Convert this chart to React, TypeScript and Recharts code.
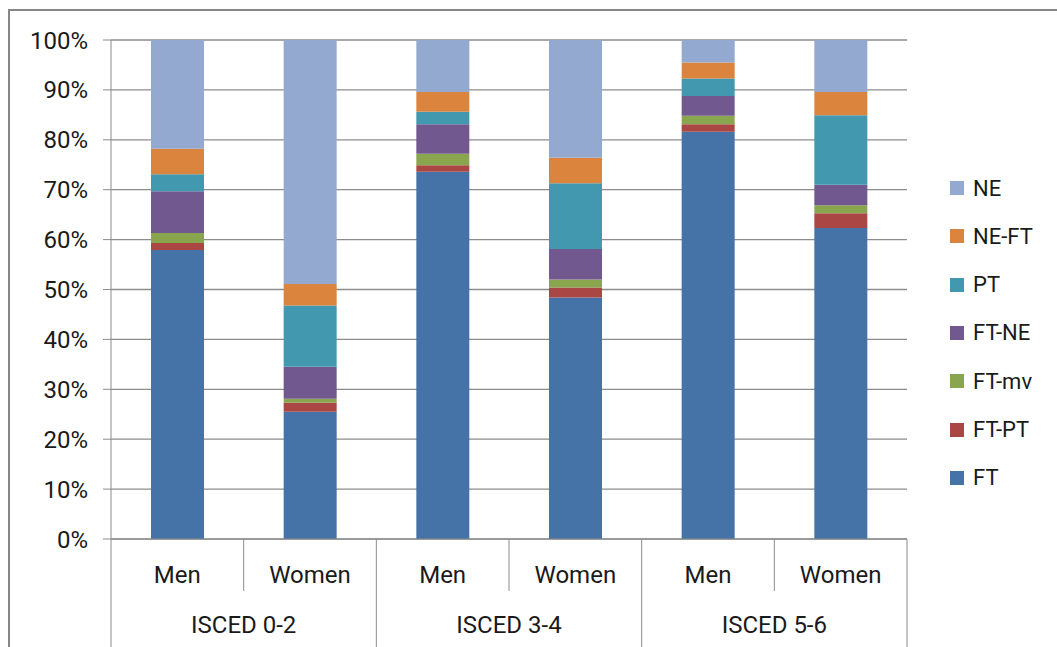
import React from "react";
import { BarChart, Bar, XAxis, YAxis, CartesianGrid } from "recharts";

// categories (inner and outer level of the x axis)
const CATEGORIES = ["Men", "Women", "Men", "Women", "Men", "Women"];
const GROUPS = ["ISCED 0-2", "ISCED 0-2", "ISCED 3-4", "ISCED 3-4", "ISCED 5-6", "ISCED 5-6"];

// series values, in % of each bar
const FT = [57.9, 25.5, 73.6, 48.4, 81.6, 62.3];
const FT_PT = [1.4, 1.8, 1.3, 2.0, 1.5, 3.0];
const FT_MV = [2.0, 0.8, 2.3, 1.6, 1.7, 1.6];
const FT_NE = [8.4, 6.4, 5.9, 6.1, 4.0, 4.1];
const PT = [3.4, 12.3, 2.5, 13.2, 3.5, 13.9];
const NE_FT = [5.1, 4.3, 4.0, 5.1, 3.2, 4.7];
const NE = [21.8, 48.9, 10.4, 23.6, 4.5, 10.4];

const Y_TICKS = [0, 10, 20, 30, 40, 50, 60, 70, 80, 90, 100];

const SERIES = [
  { key: "FT", values: FT, color: "#4572A7" },
  { key: "FT-PT", values: FT_PT, color: "#AA4643" },
  { key: "FT-mv", values: FT_MV, color: "#89A54E" },
  { key: "FT-NE", values: FT_NE, color: "#71588F" },
  { key: "PT", values: PT, color: "#4198AF" },
  { key: "NE-FT", values: NE_FT, color: "#DB843D" },
  { key: "NE", values: NE, color: "#93A9CF" },
];

const W = 1057;
const H = 647;
const PLOT_LEFT = 111;
const PLOT_RIGHT = 907;
const PLOT_TOP = 40;
const SEX_AXIS_H = 52;
const GROUP_AXIS_H = 56;
const BAND = (PLOT_RIGHT - PLOT_LEFT) / CATEGORIES.length;
const GRID = "#8c8c8c";
const FONT = "Roboto, 'Liberation Sans', sans-serif";
const TEXT = "#1a1a1a";

const data = CATEGORIES.map((sex, i) => {
  const row: Record<string, any> = { sex, group: GROUPS[i] };
  SERIES.forEach((s) => (row[s.key] = s.values[i]));
  return row;
});

const SexTick = (props: any) => {
  const { x, y, payload, index } = props;
  const last = CATEGORIES.length - 1;
  return (
    <g>
      <text x={x} y={y + 44} textAnchor="middle" fontSize={24} fontFamily={FONT} fill={TEXT}>
        {payload.value}
      </text>
      {index % 2 === 0 && (
        <line x1={x + BAND / 2} x2={x + BAND / 2} y1={y} y2={y + SEX_AXIS_H} stroke={GRID} />
      )}
      {index % 2 === 0 && (
        <line x1={x - BAND / 2} x2={x - BAND / 2} y1={y} y2={H + 5} stroke={GRID} />
      )}
      {index === last && (
        <line x1={x + BAND / 2} x2={x + BAND / 2} y1={y} y2={H + 5} stroke={GRID} />
      )}
    </g>
  );
};

const GroupTick = (props: any) => {
  const { x, y, payload, index } = props;
  if (index % 2 !== 0) return <g />;
  return (
    <text x={x + BAND / 2} y={y + 42} textAnchor="middle" fontSize={24} fontFamily={FONT} fill={TEXT}>
      {payload.value}
    </text>
  );
};

export default function App() {
  const legendItems = [...SERIES].reverse();
  return (
    <div
      style={{
        position: "absolute",
        left: 0,
        top: 0,
        width: W,
        height: H,
        overflow: "hidden",
        background: "#fff",
      }}
    >
      <div
        style={{
          position: "absolute",
          left: 8,
          top: 9,
          width: W + 40,
          height: H + 40,
          borderLeft: "2px solid #878787",
          borderTop: "2px solid #878787",
        }}
      />
      <div style={{ position: "absolute", left: 0, top: 0 }}>
        <BarChart
          width={W}
          height={H}
          data={data}
          margin={{ top: PLOT_TOP, right: W - PLOT_RIGHT, left: 0, bottom: 0 }}
        >
          <CartesianGrid vertical={false} stroke={GRID} strokeWidth={1.3} />
          <YAxis
            width={PLOT_LEFT}
            domain={[0, 100]}
            ticks={Y_TICKS}
            interval={0}
            tickFormatter={(v: number) => `${v}%`}
            tickSize={8}
            tickMargin={15}
            tickLine={{ stroke: GRID }}
            axisLine={{ stroke: GRID }}
            tick={{ fontSize: 24, fontFamily: FONT, fill: TEXT }}
          />
          <XAxis
            dataKey="sex"
            height={SEX_AXIS_H}
            interval={0}
            tickSize={0}
            tickMargin={0}
            tickLine={false}
            axisLine={{ stroke: GRID }}
            tick={<SexTick />}
          />
          <XAxis
            xAxisId="grp"
            dataKey="group"
            height={GROUP_AXIS_H}
            interval={0}
            tickSize={0}
            tickMargin={0}
            tickLine={false}
            axisLine={false}
            tick={<GroupTick />}
          />
          {SERIES.map((s) => (
            <Bar
              key={s.key}
              dataKey={s.key}
              stackId="a"
              fill={s.color}
              barSize={53}
              isAnimationActive={false}
            />
          ))}
        </BarChart>
      </div>
      {legendItems.map((s, k) => (
        <div
          key={s.key}
          style={{
            position: "absolute",
            left: 950,
            top: 188 + k * 48.3 - 14,
            height: 28,
            display: "flex",
            alignItems: "center",
            fontFamily: FONT,
            fontSize: 22,
            color: TEXT,
          }}
        >
          <span style={{ width: 14, height: 14, background: s.color, marginRight: 9 }} />
          {s.key}
        </div>
      ))}
    </div>
  );
}
